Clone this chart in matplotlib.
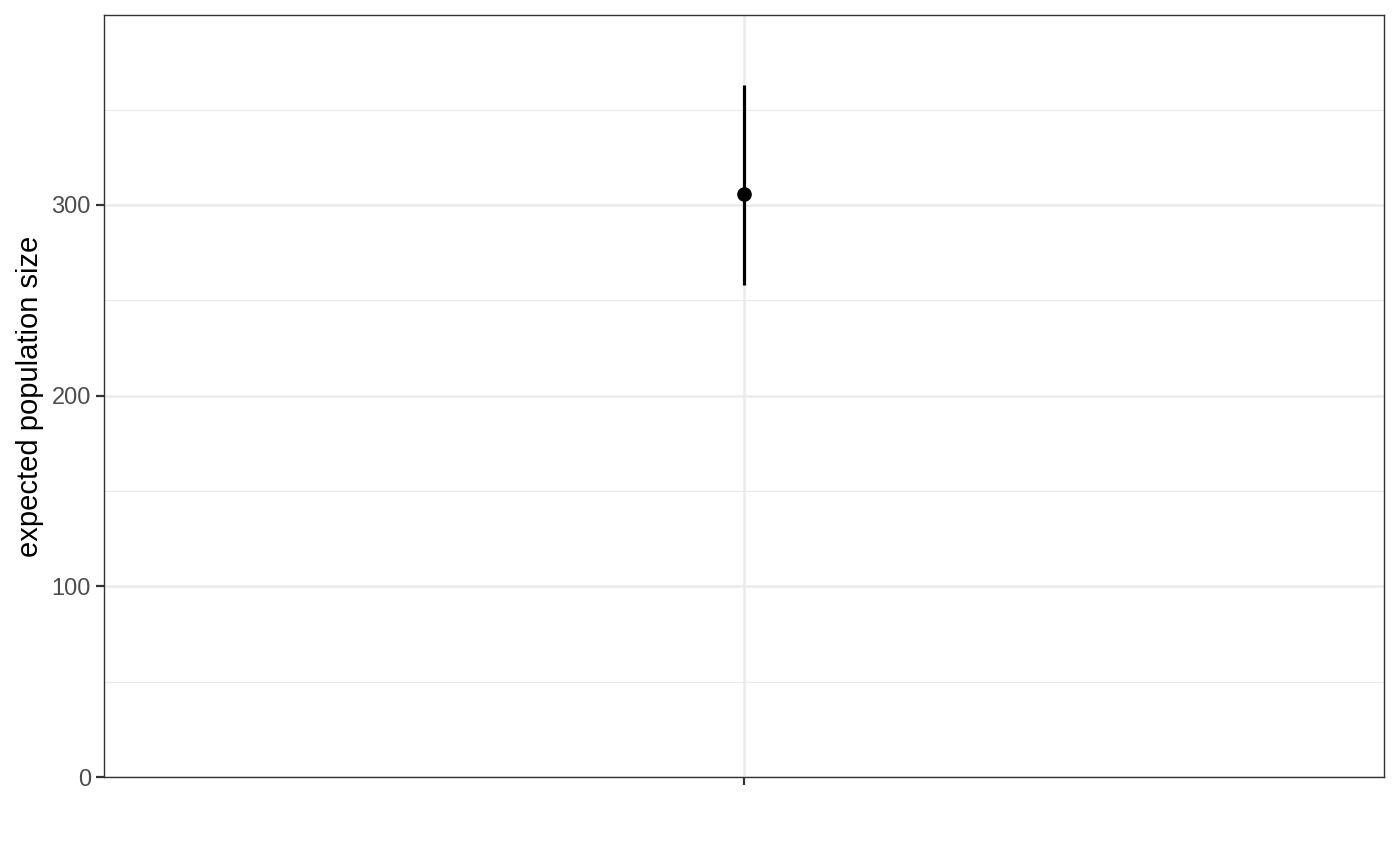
import matplotlib
matplotlib.use("Agg")
import matplotlib.pyplot as plt

# data
groups = [""]
estimate = [305.8]
lower = [258.0]
upper = [362.9]

plt.rcParams['font.family'] = ['Liberation Sans', 'DejaVu Sans']

fig = plt.figure(figsize=(14, 8.65), dpi=100)
ax = fig.add_axes([104 / 1400, 88 / 865, 1280 / 1400, 762 / 865])

xpos = list(range(1, len(groups) + 1))
err_lo = [e - l for e, l in zip(estimate, lower)]
err_hi = [u - e for e, u in zip(estimate, upper)]
ax.errorbar(xpos, estimate, yerr=[err_lo, err_hi], fmt='o', color='black',
            ms=9.5, elinewidth=2.3, capsize=0, zorder=3)

ax.set_xlim(0.4, len(groups) + 0.6)
ax.set_ylim(0, 399.6)
ax.set_xticks(xpos)
ax.set_xticklabels(groups)
ax.set_yticks([0, 100, 200, 300])
ax.set_yticks([50, 150, 250, 350], minor=True)
ax.tick_params(axis='y', which='minor', length=0)
ax.tick_params(which='major', length=5.5, width=1.6, color='#333333',
               labelsize=17, labelcolor='#4D4D4D', pad=4)

ax.grid(True, which='major', color='#EBEBEB', lw=1.8, zorder=0)
ax.grid(True, which='minor', axis='y', color='#EBEBEB', lw=0.9, zorder=0)
ax.set_axisbelow(True)
for s in ax.spines.values():
    s.set_color('#333333')
    s.set_linewidth(1.0)

ax.set_ylabel('expected population size', fontsize=21, labelpad=5)

fig.savefig('out.png', dpi=100, facecolor='white')
